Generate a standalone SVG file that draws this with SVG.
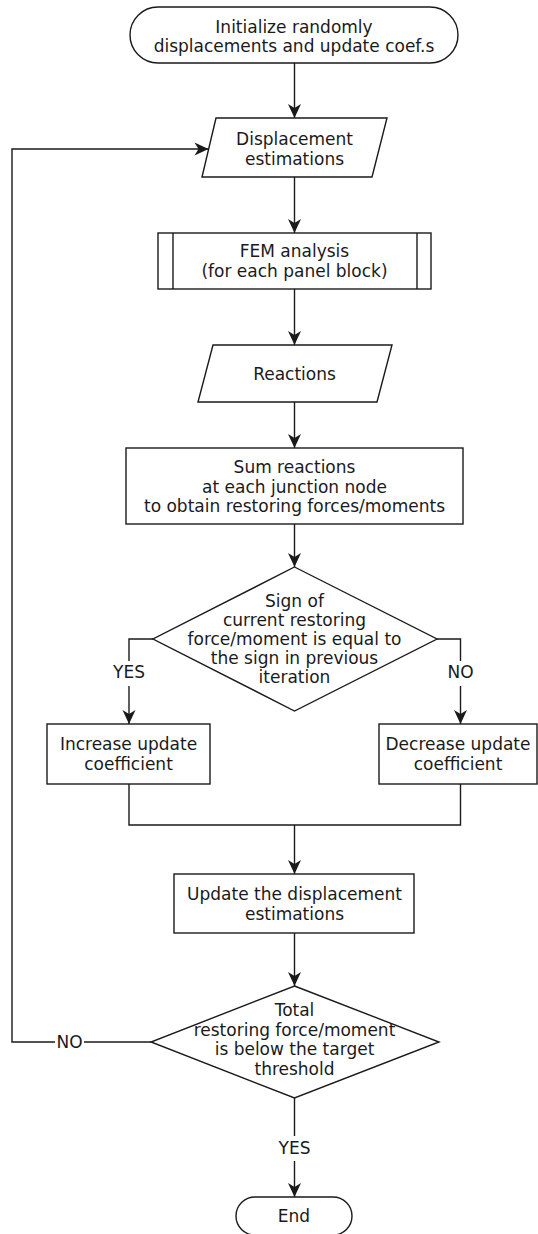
<svg xmlns="http://www.w3.org/2000/svg" width="538" height="1234" viewBox="0 0 538 1234">
<defs>
<style>
.s{fill:#fff;stroke:#1a1a1a;stroke-width:1.4}
.c{fill:none;stroke:#1a1a1a;stroke-width:1.4}
.t{font-family:"DejaVu Sans",sans-serif;font-size:17px;fill:#1a1a1a;text-anchor:middle}
</style>
<marker id="arr" markerWidth="16" markerHeight="14" refX="15" refY="7" orient="auto" markerUnits="userSpaceOnUse">
<path d="M1,0.5 L15,7 L1,13.5 L5,7 Z" fill="#1a1a1a"/>
</marker>
</defs>
<rect width="538" height="1234" fill="#fff"/>
<g id="connectors">
<path class="c" d="M294.5,63 V118" marker-end="url(#arr)"/>
<path class="c" d="M294.5,177 V233" marker-end="url(#arr)"/>
<path class="c" d="M294.5,289 V345" marker-end="url(#arr)"/>
<path class="c" d="M294.5,402 V448" marker-end="url(#arr)"/>
<path class="c" d="M294.5,524 V567" marker-end="url(#arr)"/>
<path class="c" d="M153,639 H129 V661"/>
<path class="c" d="M129,686 V724" marker-end="url(#arr)"/>
<path class="c" d="M437,639 H460.5 V661"/>
<path class="c" d="M460.5,686 V724" marker-end="url(#arr)"/>
<path class="c" d="M129,784 V825 H460.5 V784"/>
<path class="c" d="M294.5,825 V874" marker-end="url(#arr)"/>
<path class="c" d="M294.5,933 V986" marker-end="url(#arr)"/>
<path class="c" d="M151,1042 H84"/>
<path class="c" d="M55,1042 H12 V149 H208.5" marker-end="url(#arr)"/>
<path class="c" d="M294.5,1098 V1136"/>
<path class="c" d="M294.5,1161 V1197" marker-end="url(#arr)"/>
<text class="t" x="129" y="678">YES</text>
<text class="t" x="460.5" y="678">NO</text>
<text class="t" x="69.5" y="1048">NO</text>
<text class="t" x="294.5" y="1154">YES</text>
</g>
<g id="start">
<rect class="s" x="130" y="7" width="328" height="56" rx="28" ry="28"/>
<text class="t" x="294" y="32.5">Initialize randomly</text>
<text class="t" x="294" y="52">displacements and update coef.s</text>
</g>
<g id="displacement-estimations">
<polygon class="s" points="216,118 387,118 372,177 202,177"/>
<text class="t" x="294.5" y="145">Displacement</text>
<text class="t" x="294.5" y="164.5">estimations</text>
</g>
<g id="fem-analysis">
<rect class="s" x="158" y="233" width="273" height="56"/>
<path class="c" d="M173,233 V289 M417,233 V289"/>
<text class="t" x="294.5" y="257">FEM analysis</text>
<text class="t" x="294.5" y="276.5">(for each panel block)</text>
</g>
<g id="reactions">
<polygon class="s" points="213,345 392,345 377,402 198,402"/>
<text class="t" x="294.5" y="379.5">Reactions</text>
</g>
<g id="sum-reactions">
<rect class="s" x="126" y="448" width="337" height="76"/>
<text class="t" x="294.5" y="473">Sum reactions</text>
<text class="t" x="294.5" y="492.5">at each junction node</text>
<text class="t" x="294.5" y="512">to obtain restoring forces/moments</text>
</g>
<g id="sign-decision">
<polygon class="s" points="294.5,567 437,639 294.5,711 153,639"/>
<text class="t" x="294.5" y="606.5">Sign of</text>
<text class="t" x="294.5" y="625.5">current restoring</text>
<text class="t" x="294.5" y="644.5">force/moment is equal to</text>
<text class="t" x="294.5" y="663.5">the sign in previous</text>
<text class="t" x="294.5" y="683">iteration</text>
</g>
<g id="increase">
<rect class="s" x="47" y="724" width="163" height="60"/>
<text class="t" x="128.5" y="750">Increase update</text>
<text class="t" x="128.5" y="769.5">coefficient</text>
</g>
<g id="decrease">
<rect class="s" x="379" y="724" width="158" height="60"/>
<text class="t" x="458" y="750">Decrease update</text>
<text class="t" x="458" y="769.5">coefficient</text>
</g>
<g id="update-displacement">
<rect class="s" x="174" y="874" width="240" height="59"/>
<text class="t" x="294.5" y="899.5">Update the displacement</text>
<text class="t" x="294.5" y="919.5">estimations</text>
</g>
<g id="threshold-decision">
<polygon class="s" points="294.5,986 439,1042 294.5,1098 151,1042"/>
<text class="t" x="294.5" y="1016">Total</text>
<text class="t" x="294.5" y="1035.5">restoring force/moment</text>
<text class="t" x="294.5" y="1055">is below the target</text>
<text class="t" x="294.5" y="1074.5">threshold</text>
</g>
<g id="end">
<rect class="s" x="236" y="1197" width="116" height="38" rx="19" ry="19"/>
<text class="t" x="294" y="1222">End</text>
</g>
</svg>
